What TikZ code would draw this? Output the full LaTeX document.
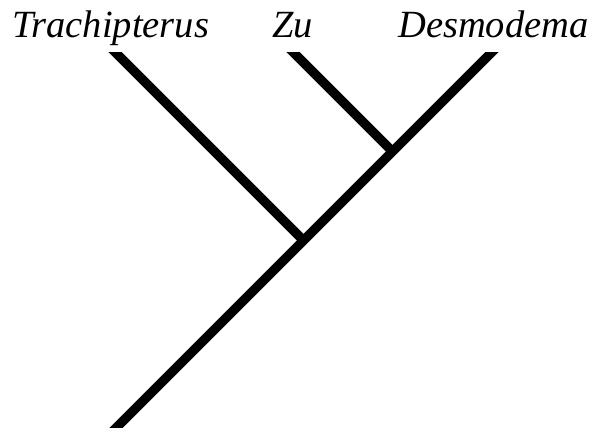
\documentclass[tikz,border=0pt]{standalone}
\usepackage{fontspec}
\setmainfont{Liberation Serif}
\begin{document}
\begin{tikzpicture}[x=1pt,y=-1pt,
  branch/.style={line width=9.5pt,line cap=butt},
  taxon/.style={anchor=base west,inner sep=0pt,font=\fontsize{38.5}{40}\selectfont\itshape}]
\useasboundingbox (0,0) rectangle (599,432);
\node[taxon] (lT) at (12,37) {Trachipterus};
\node[taxon] (lZ) at (272,37) {Zu};
\node[taxon] (lD) at (398,37) {Desmodema};
\coordinate (root) at (107,437);
\coordinate (tD) at (502,42);
\coordinate (tT) at (105,42);
\coordinate (tZ) at (283,42);
\coordinate (n1) at (303.5,240.5);
\coordinate (n2) at (392.5,151.5);
\begin{scope}
\clip (0,52) rectangle (599,427);
\draw[branch] (root) -- (tD);
\draw[branch] (tT) -- (n1);
\draw[branch] (tZ) -- (n2);
\end{scope}
\end{tikzpicture}
\end{document}
